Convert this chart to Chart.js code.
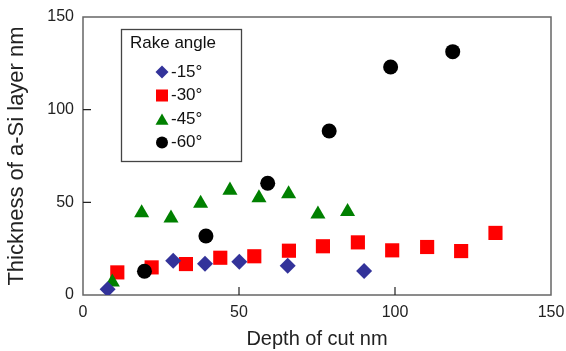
<!DOCTYPE html>
<html>
<head>
<meta charset="utf-8">
<script src="https://cdn.jsdelivr.net/npm/chart.js@4.4.1/dist/chart.umd.min.js"></script>
<style>
  html, body { margin: 0; padding: 0; background: #fff; }
  #wrap { width: 566px; height: 351px; }
</style>
</head>
<body>
<div id="wrap"><canvas id="c"></canvas></div>
<script>
// values
const seriesLabels = ["-15°", "-30°", "-45°", "-60°"];
const xTicks = [0, 50, 100, 150];
const yTicks = [0, 50, 100, 150];

const rake15X = [7.9, 28.9, 39.1, 50.1, 65.6, 90.1];
const rake15Y = [3.1, 18.5, 16.9, 18.0, 15.8, 13.0];

const rake30X = [11.0, 22.0, 33.0, 44.0, 54.9, 66.0, 76.9, 88.1, 99.1, 110.3, 121.2, 132.2];
const rake30Y = [12.2, 14.9, 16.7, 20.1, 20.9, 23.9, 26.3, 28.4, 24.1, 25.9, 23.7, 33.5];

const rake45X = [9.4, 18.8, 28.2, 37.7, 47.1, 56.4, 65.9, 75.3, 84.8];
const rake45Y = [6.9, 44.3, 41.4, 49.4, 56.5, 52.4, 54.5, 43.6, 45.0];

const rake60X = [19.7, 39.4, 59.2, 78.9, 98.6, 118.5];
const rake60Y = [12.8, 31.8, 60.3, 88.5, 123.0, 131.3];

const FONT = "'Liberation Sans', Arial, sans-serif";

function pts(xs, ys) {
  return xs.map((x, i) => ({ x: x, y: ys[i] }));
}

// small shape painter for the legend box
function drawMarker(ctx, style, x, y, r, color) {
  ctx.fillStyle = color;
  ctx.beginPath();
  if (style === "circle") {
    ctx.arc(x, y, r, 0, Math.PI * 2);
  } else if (style === "rect") {
    const h = r * Math.SQRT1_2;
    ctx.rect(x - h, y - h, 2 * h, 2 * h);
  } else if (style === "rectRot") {
    ctx.moveTo(x, y - r);
    ctx.lineTo(x + r, y);
    ctx.lineTo(x, y + r);
    ctx.lineTo(x - r, y);
    ctx.closePath();
  } else if (style === "triangle") {
    ctx.moveTo(x, y - r);
    ctx.lineTo(x + r * 0.866, y + r / 2);
    ctx.lineTo(x - r * 0.866, y + r / 2);
    ctx.closePath();
  }
  ctx.fill();
}

const frameAndTicks = {
  id: "frameAndTicks",
  beforeDatasetsDraw(chart) {
    const { ctx, chartArea: a, scales } = chart;
    ctx.save();
    ctx.strokeStyle = "#666";
    ctx.lineWidth = 1.5;
    ctx.strokeRect(a.left, a.top, a.right - a.left, a.bottom - a.top);
    ctx.strokeStyle = "#222";
    ctx.lineWidth = 1.2;
    ctx.beginPath();
    xTicks.slice(1, -1).forEach(v => {
      const px = scales.x.getPixelForValue(v);
      ctx.moveTo(px, a.bottom);
      ctx.lineTo(px, a.bottom - 8);
    });
    yTicks.slice(1, -1).forEach(v => {
      const py = scales.y.getPixelForValue(v);
      ctx.moveTo(a.left, py);
      ctx.lineTo(a.left + 8, py);
    });
    ctx.stroke();
    ctx.restore();
  }
};

const legendBox = {
  id: "legendBox",
  afterDatasetsDraw(chart) {
    const ctx = chart.ctx;
    ctx.save();
    ctx.strokeStyle = "#444";
    ctx.lineWidth = 1.3;
    ctx.strokeRect(121.5, 29.5, 120, 132);
    ctx.fillStyle = "#111";
    ctx.font = "17px " + FONT;
    ctx.textBaseline = "middle";
    ctx.fillText("Rake angle", 130, 43);
    const legendR = [6.5, 8.5, 7.5, 6];
    const rowY = [72, 95.5, 119.5, 142.5];
    chart.data.datasets.forEach((ds, i) => {
      const y = rowY[i];
      drawMarker(ctx, ds.pointStyle, 162, i === 2 ? y + 1.5 : y, legendR[i], ds.backgroundColor);
      ctx.fillStyle = "#111";
      ctx.fillText(ds.label, 171, y);
    });
    ctx.restore();
  }
};

const marker = (label, data, style, color, r, order) => ({
  label: label,
  data: data,
  pointStyle: style,
  backgroundColor: color,
  borderColor: color,
  borderWidth: 0,
  pointRadius: r,
  order: order,
  showLine: false
});

new Chart(document.getElementById("c"), {
  type: "scatter",
  data: {
    datasets: [
      marker(seriesLabels[0], pts(rake15X, rake15Y), "rectRot", "#33339a", 8, 0),
      marker(seriesLabels[1], pts(rake30X, rake30Y), "rect", "#ff0000", 10, 3),
      marker(seriesLabels[2], pts(rake45X, rake45Y), "triangle", "#008000", 8.7, 2),
      marker(seriesLabels[3], pts(rake60X, rake60Y), "circle", "#000000", 7.5, 1)
    ]
  },
  options: {
    responsive: true,
    maintainAspectRatio: false,
    animation: false,
    layout: { padding: { left: 0, top: 17, right: 15, bottom: 0 } },
    plugins: {
      legend: { display: false },
      tooltip: { enabled: false }
    },
    scales: {
      x: {
        type: "linear",
        min: 0,
        max: 150,
        afterBuildTicks: s => { s.ticks = xTicks.map(v => ({ value: v })); },
        afterFit: s => { s.height = 56; s.paddingLeft = 0; s.paddingRight = 0; },
        grid: { display: false, drawTicks: false },
        border: { display: false },
        ticks: { padding: 8, color: "#222", font: { family: FONT, size: 16 } },
        title: {
          display: true,
          text: "Depth of cut nm",
          color: "#222",
          padding: { top: 0, bottom: 0 },
          font: { family: FONT, size: 20 }
        }
      },
      y: {
        type: "linear",
        min: 0,
        max: 150,
        afterBuildTicks: s => { s.ticks = yTicks.map(v => ({ value: v })); },
        afterFit: s => { s.width = 83; s.paddingTop = 0; s.paddingBottom = 0; },
        grid: { display: false, drawTicks: false },
        border: { display: false },
        ticks: { padding: 9, color: "#222", font: { family: FONT, size: 16 } },
        title: {
          display: true,
          text: "Thickness of a-Si layer nm",
          color: "#222",
          padding: { top: 4, bottom: 0 },
          font: { family: FONT, size: 22 }
        }
      }
    }
  },
  plugins: [frameAndTicks, legendBox]
});
</script>
</body>
</html>
